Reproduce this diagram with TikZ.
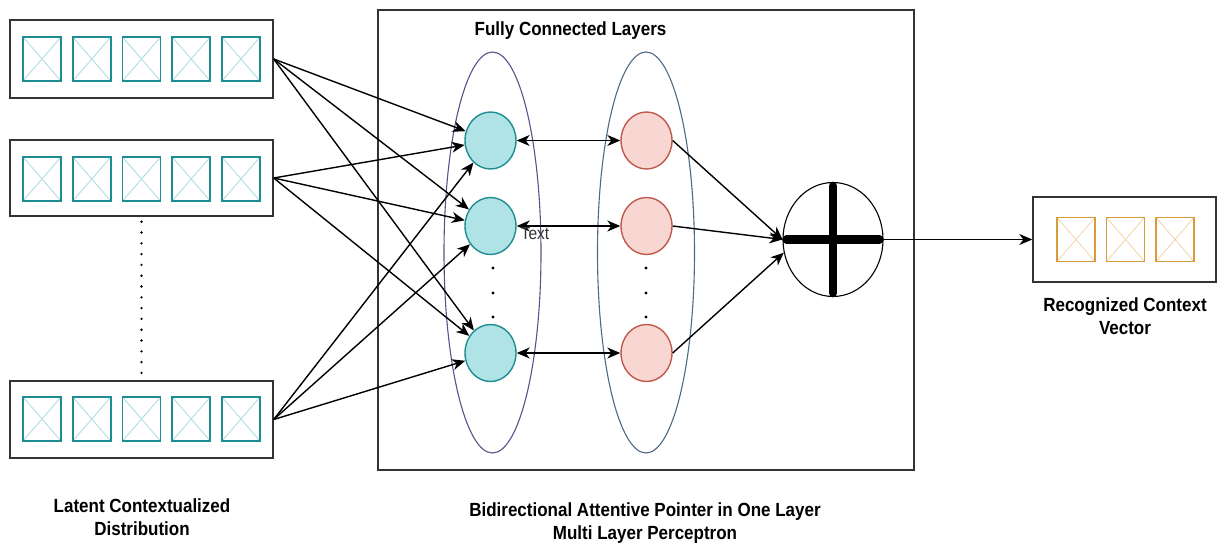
\documentclass[tikz,border=0pt]{standalone}
\usepackage{fontspec}
\usepackage{graphicx}
\setmainfont{Liberation Sans}
\usetikzlibrary{arrows.meta,shapes.geometric,calc}

\definecolor{framegray}{HTML}{333333}
\definecolor{tealline}{HTML}{1E8C93}
\definecolor{tealfill}{HTML}{B0E3E6}
\definecolor{tealx}{HTML}{A6DCE0}
\definecolor{redline}{HTML}{C0584C}
\definecolor{redfill}{HTML}{F8D7D3}
\definecolor{orangeline}{HTML}{D99A3A}
\definecolor{orangex}{HTML}{F3D3A6}
\definecolor{purpleline}{HTML}{5E4E8C}
\definecolor{slateline}{HTML}{4F6A82}

% slightly tall bold captions
\newcommand{\tallbox}[1]{\scalebox{1}[1.12]{#1}}

\tikzset{
  frame/.style={draw=framegray, line width=1.4pt, inner sep=0pt},
  cell/.style={line width=1.7pt, minimum width=38pt, minimum height=44pt, inner sep=0pt},
  tealcell/.style={cell, draw=tealline,
    path picture={\draw[tealx, line width=0.8pt]
      (path picture bounding box.south west) -- (path picture bounding box.north east)
      (path picture bounding box.north west) -- (path picture bounding box.south east);}},
  orangecell/.style={cell, draw=orangeline,
    path picture={\draw[orangex, line width=0.8pt]
      (path picture bounding box.south west) -- (path picture bounding box.north east)
      (path picture bounding box.north west) -- (path picture bounding box.south east);}},
  neuron/.style={ellipse, line width=1.4pt, minimum width=51pt, minimum height=57pt, inner sep=0pt},
  tealneuron/.style={neuron, draw=tealline, fill=tealfill},
  redneuron/.style={neuron, draw=redline, fill=redfill},
  layerring/.style={ellipse, line width=1.1pt, inner sep=0pt, minimum width=97pt, minimum height=401pt},
  arr/.style={-{Stealth[length=13pt,width=11pt,inset=4pt]}, line width=1.4pt, draw=black},
  darr/.style={{Stealth[length=13pt,width=11pt,inset=4pt]}-{Stealth[length=13pt,width=11pt,inset=4pt]}, line width=1.4pt, draw=black},
  caption/.style={font=\fontsize{17}{23}\selectfont\bfseries, align=center, text=black, inner sep=0pt},
}

\begin{document}
\begin{tikzpicture}[x=1pt,y=-1pt]
\useasboundingbox (0,0) rectangle (1218,547);

% input distributions
\node[frame, minimum width=263pt, minimum height=78pt] (b1) at (141.5,59) {};
\node[frame, minimum width=263pt, minimum height=76pt] (b2) at (141.5,178) {};
\node[frame, minimum width=263pt, minimum height=77pt] (b3) at (141.5,419.5) {};
\foreach \b/\y in {1/59, 2/179, 3/419}{
  \foreach \i in {0,...,4}{
    \node[tealcell] (b\b s\i) at ({42+49.75*\i},\y) {};
  }
}
\draw[line width=2.6pt, dash pattern=on 0pt off 10.8pt, line cap=round]
  ($(b2.south)+(0,5)$) -- (b3.north);

% perceptron block
\node[frame, minimum width=536pt, minimum height=460pt] (mlp) at (646,240) {};
\node[layerring, draw=purpleline] (ringA) at (492.5,252.5) {};
\node[layerring, draw=slateline] (ringB) at (646,252.5) {};

\node[tealneuron] (t1) at (490.5,140.5) {};
\node[tealneuron] (t2) at (490.5,226) {};
\node[tealneuron] (t3) at (490.5,353) {};
\node[redneuron] (r1) at (646.5,140.5) {};
\node[redneuron] (r2) at (646.5,226) {};
\node[redneuron] (r3) at (646.5,353) {};

\foreach \x in {493,646}{
  \foreach \y in {268,293,317}{
    \fill (\x,\y) circle (1.6pt);
  }
}

% summation node
\node[ellipse, draw=black, line width=1.1pt, minimum width=100pt, minimum height=114pt, inner sep=0pt] (sum) at (833,239.5) {};
\draw[line width=8.5pt, line cap=round] ($(sum.west)+(4,0)$) -- ($(sum.east)+(-4,0)$);
\draw[line width=8.5pt, line cap=round] ($(sum.north)+(0,4)$) -- ($(sum.south)+(0,-4)$);

% output vector
\node[frame, minimum width=183pt, minimum height=85pt] (out) at (1124.5,239.5) {};
\foreach \i in {0,1,2}{
  \node[orangecell] (o\i) at ({1076+49.5*\i},239.5) {};
}

% connections into the first layer
\foreach \b in {1,2,3}{
  \foreach \t in {1,2,3}{
    \draw[arr] (b\b.east) -- (t\t);
  }
}
\foreach \i in {1,2,3}{
  \draw[darr] (t\i.east) -- (r\i.west);
}
\draw[arr] (r1.east) -- (sum.west);
\draw[arr] (r2.east) -- (sum.west);
\draw[arr] (r3.east) -- (sum.195);
\draw[arr] (sum.east) -- (out.west);

\node[font=\fontsize{15.5}{18}\selectfont, text=framegray, inner sep=0pt] (lbl) at (535,234) {\tallbox{Text}};

% captions
\node[caption] (title) at (570.5,31) {\tallbox{Fully Connected Layers}};
\node[caption] (capIn) at (142,517) {\tallbox{Latent Contextualized}\\\tallbox{Distribution}};
\node[caption] (capMid) at (645,523) {\tallbox{Bidirectional Attentive Pointer in One Layer}\\\tallbox{Multi Layer Perceptron}};
\node[caption] (capOut) at (1125,316) {\tallbox{Recognized Context}\\\tallbox{Vector}};
\end{tikzpicture}
\end{document}
